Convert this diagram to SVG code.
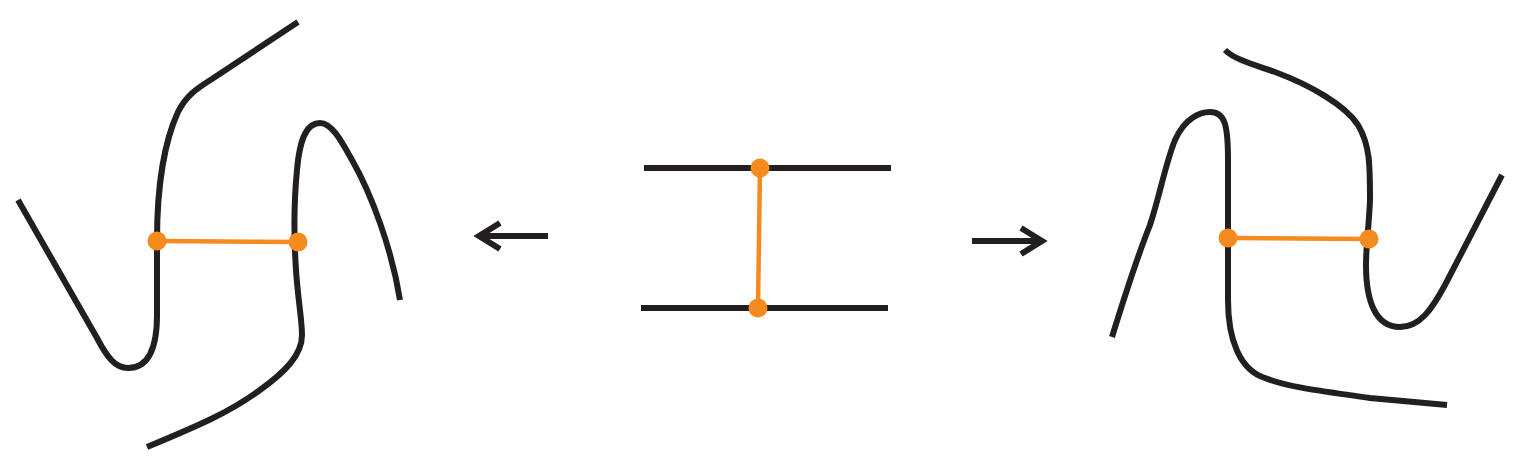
<svg xmlns="http://www.w3.org/2000/svg" width="1522" height="465" viewBox="0 0 1522 465">
<style>
.k{fill:none;stroke:#231f20;stroke-width:6;stroke-linecap:butt}
.o{fill:none;stroke:#f58a1f;stroke-width:4.5}
.d{fill:#f58a1f}
</style>
<rect width="1522" height="465" fill="#fff"/>
<g id="left-figure">
<path class="k" d="M18,200 L97,338 C107,357 115,368 128,368 C145,368 157,355 157,315 L157,240 C157,185 165,140 178,112 C186,96 196,89 212,79 L298,22"/>
<path class="k" d="M400,300 C392,250 372,195 352,160 C342,142 332,123 320,123 C308,123 300,135 297,170 C294,200 294,240 296,270 C298,300 302,320 302,335 C302,355 285,372 260,390 C230,412 200,425 147,447"/>
<line class="o" x1="157" y1="241" x2="298" y2="242"/>
<circle class="d" cx="157" cy="241" r="9.5"/>
<circle class="d" cx="298" cy="242" r="9.5"/>
</g>
<g id="center-figure">
<line class="k" x1="644" y1="168" x2="891" y2="168"/>
<line class="k" x1="641" y1="308" x2="888" y2="308"/>
<line class="o" x1="760" y1="168" x2="758" y2="308"/>
<circle class="d" cx="760" cy="168" r="9.5"/>
<circle class="d" cx="758" cy="308" r="9.5"/>
</g>
<g id="right-figure">
<path class="k" d="M1112,337 C1125,295 1140,250 1150,225 C1160,195 1165,165 1175,140 C1185,118 1200,112 1210,112 C1225,112 1228,125 1228,160 L1228,300 C1228,340 1240,370 1265,378 C1290,388 1330,392 1370,398 L1447,405"/>
<path class="k" d="M1225,50 C1235,60 1255,65 1275,72 C1310,85 1345,105 1358,125 C1370,145 1370,165 1370,200 C1369,225 1366,245 1366,265 C1366,300 1375,327 1400,327 C1420,327 1432,309 1445,285 L1502,175"/>
<line class="o" x1="1228" y1="238" x2="1369" y2="239"/>
<circle class="d" cx="1228" cy="238" r="9.5"/>
<circle class="d" cx="1369" cy="239" r="9.5"/>
</g>
<g id="connectors">
<line class="k" x1="548" y1="236" x2="480" y2="236"/>
<polyline class="k" points="500,223 479,236 500,249"/>
<line class="k" x1="972" y1="241" x2="1042" y2="241"/>
<polyline class="k" points="1021,228 1042,241 1021,254"/>
</g>
</svg>
